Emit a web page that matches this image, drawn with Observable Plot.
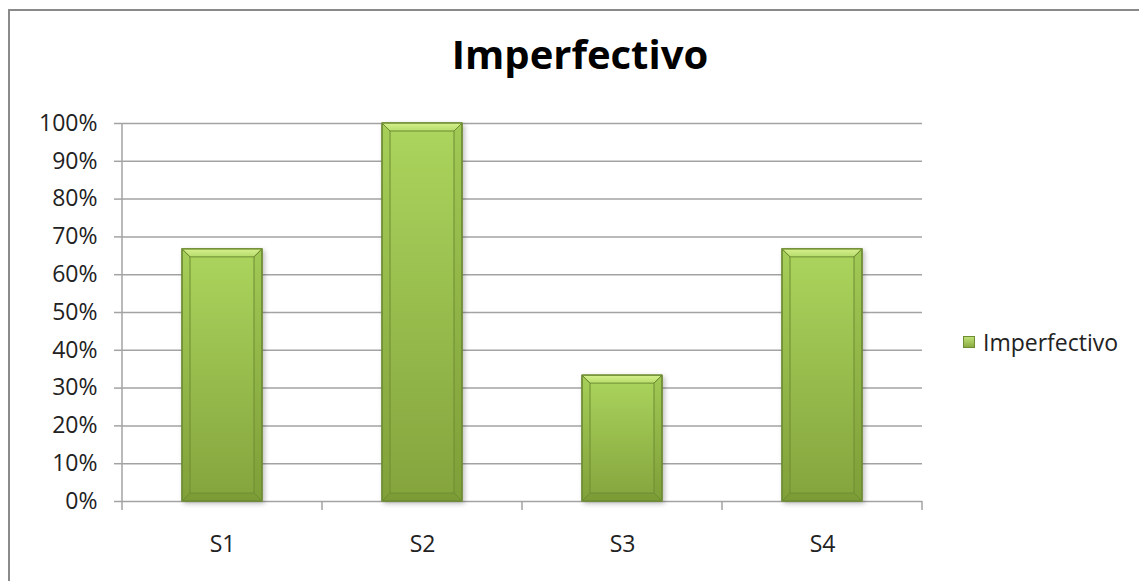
<!DOCTYPE html>
<html>
<head>
<meta charset="utf-8">
<script src="https://cdn.jsdelivr.net/npm/d3@7"></script>
<script src="https://cdn.jsdelivr.net/npm/@observablehq/plot@0.6"></script>
<style>
  html, body { margin: 0; padding: 0; background: #fff; overflow: hidden; }
  #chart { position: relative; width: 1139px; height: 581px; overflow: hidden; font-family: "Open Sans", sans-serif; }
  #title { position: absolute; left: 0; width: 1160px; top: 34px; text-align: center; font-weight: bold; font-size: 40px; color: #000; line-height: 1; }
  #legend { position: absolute; left: 963px; top: 326px; font-size: 23px; color: #222; display: flex; align-items: center; }
  #legend .swatch { width: 12px; height: 12px; margin-right: 8px; background: linear-gradient(#c4e57c, #86a63e); box-shadow: inset 0 0 0 1px #6f8c33; }
  #plot { position: absolute; left: 0; top: 0; width: 1139px; height: 581px; overflow: hidden; }
  #plot svg { overflow: hidden; display: block; }
</style>
</head>
<body>
<div id="chart">
  <div id="plot"></div>
  <div id="title">Imperfectivo</div>
  <div id="legend"><span class="swatch"></span><span>Imperfectivo</span></div>
</div>
<script>
// Share of imperfective use per session
const sessions = ["S1", "S2", "S3", "S4"];
const shares = [0.667, 1.0, 0.333, 0.667];
const yTicks = [0, 0.1, 0.2, 0.3, 0.4, 0.5, 0.6, 0.7, 0.8, 0.9, 1.0];

const rows = sessions.map((s, i) => ({session: s, share: shares[i]}));
const grid = "#a3a3a3";

const plot = Plot.plot({
  width: 1139,
  height: 581,
  marginLeft: 122,
  marginRight: 217,
  marginTop: 123,
  marginBottom: 80,
  style: {fontFamily: "Open Sans, sans-serif", fontSize: "23px", color: "#222", background: "transparent", overflow: "hidden"},
  x: {domain: sessions, paddingInner: 0.6, paddingOuter: 0.3, label: null},
  y: {domain: [0, 1], label: null},
  marks: [
    Plot.ruleY(yTicks, {stroke: grid, strokeWidth: 1.5}),
    Plot.axisY({ticks: yTicks, tickFormat: d3.format(".0%"), tickSize: 8, tickPadding: 17, stroke: grid, strokeWidth: 1.5, fill: "#222", strokeOpacity: 1}),
    Plot.axisX({tickSize: 0, tickPadding: 34, fill: "#222"}),
    Plot.barY(rows, {x: "session", y: "share", fill: "url(#barGrad)", stroke: "#6f8c33", strokeWidth: 1, className: "bar"})
  ]
});

document.getElementById("plot").appendChild(plot);

const svg = d3.select(plot);
const defs = svg.insert("defs", ":first-child");
const bodyGrad = defs.append("linearGradient").attr("id", "barGrad").attr("x1", 0).attr("y1", 0).attr("x2", 0).attr("y2", 1);
bodyGrad.append("stop").attr("offset", "0%").attr("stop-color", "#abd55d");
bodyGrad.append("stop").attr("offset", "100%").attr("stop-color", "#84a43d");
const capGrad = defs.append("linearGradient").attr("id", "topGrad").attr("x1", 0).attr("y1", 0).attr("x2", 0).attr("y2", 1);
capGrad.append("stop").attr("offset", "0%").attr("stop-color", "#d6f08e");
capGrad.append("stop").attr("offset", "100%").attr("stop-color", "#b6dc6a");
const shadow = defs.append("filter").attr("id", "barShadow").attr("x", "-20%").attr("y", "-20%").attr("width", "140%").attr("height", "140%");
shadow.append("feDropShadow").attr("dx", 2).attr("dy", 2).attr("stdDeviation", 2.5).attr("flood-color", "#000").attr("flood-opacity", 0.28);

// Chart frame (top and left edges only; the box runs past the right and bottom)
const frame = svg.insert("g", "defs + *");
frame.append("path").attr("d", "M9,581V10H1139").attr("fill", "none").attr("stroke", "#8a8a8a").attr("stroke-width", 2);

// Axis line along y, category boundary ticks, and bevel shading on each bar
const xs = plot.scale("x");
const band = d3.scaleBand().domain(xs.domain).range(xs.range).paddingInner(xs.paddingInner).paddingOuter(xs.paddingOuter).align(xs.align ?? 0.5);
const yBase = plot.scale("y").range[0];
const yTop = plot.scale("y").range[1];
const step = band.step();
const edges = sessions.map(s => band(s) - (step - band.bandwidth()) / 2);
edges.push(edges[edges.length - 1] + step);
const extra = svg.append("g");
extra.selectAll("line.edge").data(edges).join("line")
  .attr("x1", d => d).attr("x2", d => d).attr("y1", yBase).attr("y2", yBase + 9)
  .attr("stroke", grid).attr("stroke-width", 1.5);
extra.append("line").attr("x1", edges[0]).attr("x2", edges[0]).attr("y1", yTop).attr("y2", yBase)
  .attr("stroke", grid).attr("stroke-width", 1.5);

svg.selectAll(".bar rect").each(function() {
  const r = d3.select(this);
  const x = +r.attr("x"), yy = +r.attr("y"), w = +r.attr("width"), h = +r.attr("height");
  const b = 8;
  const parent = d3.select(this.parentNode);
  const grp = parent.append("g").attr("pointer-events", "none");
  this.setAttribute("filter", "url(#barShadow)");
  grp.append("polygon").attr("points", [[x, yy], [x + w, yy], [x + w - b, yy + b], [x + b, yy + b]].join(" ")).attr("fill", "url(#topGrad)");
  grp.append("polygon").attr("points", [[x, yy], [x + b, yy + b], [x + b, yy + h - b], [x, yy + h]].join(" ")).attr("fill", "#4a6a10").attr("fill-opacity", 0.05);
  grp.append("polygon").attr("points", [[x + w, yy], [x + w - b, yy + b], [x + w - b, yy + h - b], [x + w, yy + h]].join(" ")).attr("fill", "#4a6a10").attr("fill-opacity", 0.1);
  grp.append("polygon").attr("points", [[x, yy + h], [x + b, yy + h - b], [x + w - b, yy + h - b], [x + w, yy + h]].join(" ")).attr("fill", "#3e5a0c").attr("fill-opacity", 0.12);
  grp.append("rect").attr("x", x).attr("y", yy).attr("width", w).attr("height", h).attr("fill", "none").attr("stroke", "#6f8c33").attr("stroke-width", 1);
});
</script>
</body>
</html>
